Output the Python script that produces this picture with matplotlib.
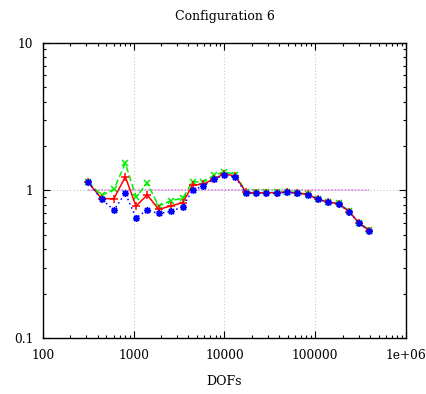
import matplotlib
matplotlib.use("Agg")
import matplotlib.pyplot as plt
from matplotlib.ticker import LogLocator, NullFormatter, FixedLocator, FixedFormatter

plt.rcParams['font.family'] = ['DejaVu Serif']

dofs = [315, 443, 605, 807, 1059, 1409, 1884, 2553, 3460, 4463, 5837, 7656,
        9926, 13220, 17250, 22230, 28660, 37570, 49170, 63400, 82580, 107200,
        139200, 181200, 235500, 305700, 394200]

ratio_red = [1.136, 0.880, 0.880, 1.240, 0.785, 0.932, 0.746, 0.785, 0.827,
             1.089, 1.101, 1.202, 1.293, 1.253, 0.970, 0.965, 0.965, 0.965,
             0.975, 0.962, 0.940, 0.874, 0.834, 0.816, 0.720, 0.601, 0.536]
ratio_green = [1.136, 0.928, 1.019, 1.528, 0.908, 1.119, 0.785, 0.853, 0.886,
               1.147, 1.136, 1.267, 1.338, 1.283, 0.977, 0.970, 0.970, 0.970,
               0.980, 0.966, 0.944, 0.876, 0.836, 0.818, 0.722, 0.603, 0.538]
ratio_blue = [1.136, 0.872, 0.738, 0.957, 0.655, 0.738, 0.699, 0.721, 0.777,
              1.008, 1.073, 1.190, 1.269, 1.228, 0.957, 0.957, 0.957, 0.957,
              0.972, 0.957, 0.937, 0.872, 0.832, 0.814, 0.719, 0.600, 0.535]
reference = [1.0, 1.0]

xticks = [100, 1000, 10000, 100000, 1000000]
xtick_labels = ['100', '1000', '10000', '100000', '1e+06']
yticks = [0.1, 1, 10]
ytick_labels = ['0.1', '1', '10']

fig = plt.figure(figsize=(4.26, 3.94), dpi=100)
ax = fig.add_axes([0.1009, 0.1414, 0.8521, 0.7502])

ax.set_xscale('log')
ax.set_yscale('log')
ax.set_xlim(100, 1e6)
ax.set_ylim(0.1, 10)

# grid at major decades
for xv in xticks[1:-1]:
    ax.axvline(xv, color='#c8c8c8', lw=0.8, ls=(0, (1, 2)), zorder=0)
ax.axhline(1, color='#c8c8c8', lw=0.8, ls=(0, (1, 2)), zorder=0)

ax.plot([dofs[0], dofs[-1]], reference, color='#e07ee0', lw=1.2,
        ls=(0, (1, 1)), zorder=1)

star = (8, 2, 0)
ax.plot(dofs, ratio_red, color='#ff0000', lw=1.1, ls='-', marker='+',
        ms=5.5, mew=1.1, zorder=3)
ax.plot(dofs, ratio_green, color='#00ee00', lw=1.1, ls=(0, (4, 2)),
        marker='x', ms=4.5, mew=1.1, zorder=2)
ax.plot(dofs, ratio_blue, color='#0000ff', lw=1.1, ls=(0, (1, 2)),
        marker=star, ms=5, mew=1.0, zorder=4)

ax.xaxis.set_major_locator(FixedLocator(xticks))
ax.xaxis.set_major_formatter(FixedFormatter(xtick_labels))
ax.yaxis.set_major_locator(FixedLocator(yticks))
ax.yaxis.set_major_formatter(FixedFormatter(ytick_labels))
ax.xaxis.set_minor_locator(LogLocator(base=10, subs=range(2, 10), numticks=20))
ax.yaxis.set_minor_locator(LogLocator(base=10, subs=range(2, 10), numticks=20))
ax.xaxis.set_minor_formatter(NullFormatter())
ax.yaxis.set_minor_formatter(NullFormatter())

ax.tick_params(which='both', direction='in', top=True, right=True,
               labelsize=8.8, color='black')
ax.tick_params(which='major', length=5, width=0.8, pad=8)
ax.tick_params(which='minor', length=2.5, width=0.8)
ax.tick_params(axis='y', which='major', pad=7)

for sp in ax.spines.values():
    sp.set_linewidth(1.0)

ax.set_title('Configuration 6', fontsize=9, pad=16)
ax.set_xlabel('DOFs', fontsize=9, labelpad=9)

fig.savefig('out.png', dpi=100)
